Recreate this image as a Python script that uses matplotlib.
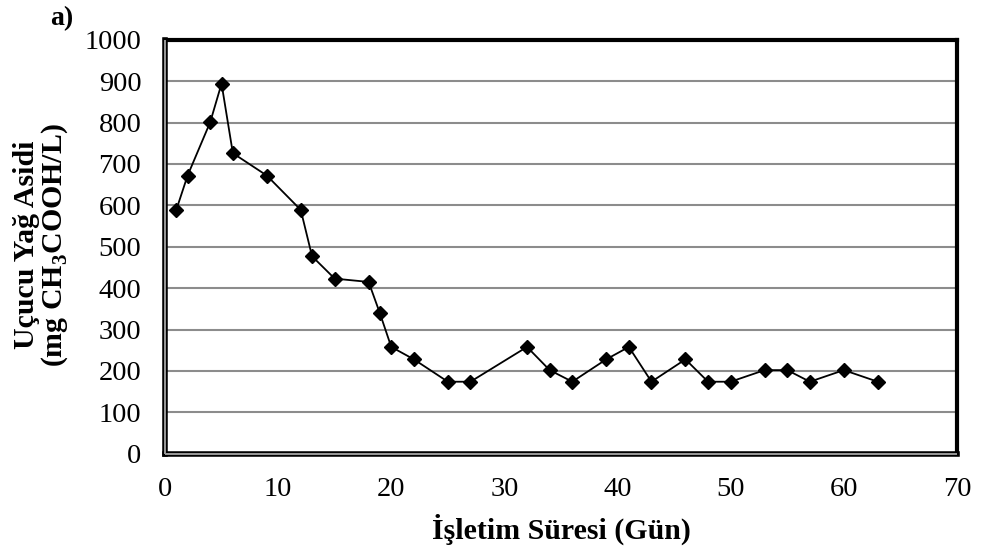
import matplotlib
matplotlib.use("Agg")
import matplotlib.pyplot as plt

plt.rcParams['font.family'] = ['Liberation Serif', 'DejaVu Serif']
plt.rcParams['mathtext.fontset'] = 'custom'
plt.rcParams['mathtext.rm'] = 'Liberation Serif'
plt.rcParams['mathtext.bf'] = 'Liberation Serif:bold'

# operating time (days) and volatile fatty acid concentration
gun = [1, 2, 4, 5, 6, 9, 12, 13, 15, 18, 19, 20, 22, 25, 27,
       32, 34, 36, 39, 41, 43, 46, 48, 50, 53, 55, 57, 60, 63]
uya = [589, 672, 801, 894, 726, 672, 589, 477, 423, 415, 339, 258, 228, 174, 174,
       258, 202, 174, 228, 258, 174, 228, 174, 174, 202, 202, 174, 202, 174]

x_ticks = [0, 10, 20, 30, 40, 50, 60, 70]
y_ticks = [0, 100, 200, 300, 400, 500, 600, 700, 800, 900, 1000]

fig = plt.figure(figsize=(9.82, 5.52), dpi=100)
ax = fig.add_axes([0.168, 0.178, 0.8065, 0.750])

ax.plot(gun, uya, color='black', linewidth=1.3, marker='D', markersize=7.5,
        markerfacecolor='black', markeredgecolor='black', zorder=3)

ax.set_xlim(0, 70)
ax.set_ylim(0, 1000)
ax.set_xticks(x_ticks)
ax.set_yticks(y_ticks)
ax.tick_params(axis='both', length=0, labelsize=20.5)
ax.tick_params(axis='y', pad=17)
ax.tick_params(axis='x', pad=17)

ax.yaxis.grid(True, color='#8c8c8c', linewidth=1.5)
ax.set_axisbelow(True)
ax.spines['top'].set_linewidth(3)
ax.spines['right'].set_linewidth(3)
ax.spines['left'].set_linewidth(4)
ax.spines['bottom'].set_linewidth(4)
# grey core on the left/bottom frame lines (double-line border)
ax.plot([0, 0], [0, 1], transform=ax.transAxes, color='#9a9a9a', lw=1.4,
        clip_on=False, zorder=4, solid_capstyle='butt')
ax.plot([0, 1], [0, 0], transform=ax.transAxes, color='#9a9a9a', lw=1.4,
        clip_on=False, zorder=4, solid_capstyle='butt')

ax.set_xlabel('İşletim Süresi (Gün)', fontsize=21.5, fontweight='bold', labelpad=8)
fig.text(41.5 / 982, 1 - 245 / 552, 'Uçucu Yağ Asidi\n(mg CH$_\\mathbf{3}$COOH/L)',
         fontsize=21.5, fontweight='bold', rotation=90, ha='center', va='center',
         linespacing=1.0, multialignment='center')

fig.text(0.051, 0.966, 'a)', fontsize=20, fontweight='bold', va='center')

fig.savefig('out.png', dpi=100)
